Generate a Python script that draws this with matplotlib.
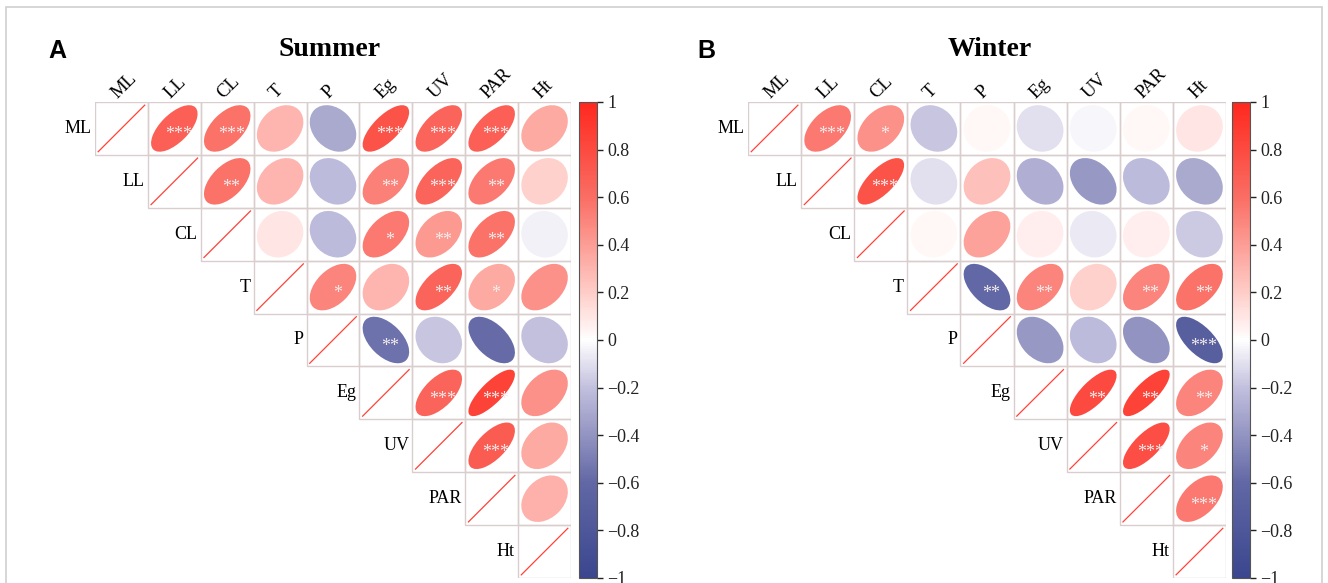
import matplotlib.pyplot as plt
import numpy as np
from matplotlib.patches import Ellipse, Rectangle
from matplotlib.colors import LinearSegmentedColormap, Normalize
from matplotlib.cm import ScalarMappable

labels = ["ML", "LL", "CL", "T", "P", "Eg", "UV", "PAR", "Ht"]

# upper triangle, row i holds r for columns i+1 ... 8
summer_r = [
    [0.68, 0.58, 0.30, -0.30, 0.75, 0.65, 0.68, 0.35],
    [0.58, 0.30, -0.22, 0.52, 0.65, 0.55, 0.18],
    [0.10, -0.22, 0.55, 0.42, 0.58, -0.04],
    [0.50, 0.30, 0.65, 0.35, 0.45],
    [-0.55, -0.18, -0.58, -0.20],
    [0.65, 0.85, 0.45],
    [0.70, 0.35],
    [0.32],
]
summer_sig = [
    ["***", "***", "", "", "***", "***", "***", ""],
    ["**", "", "", "**", "***", "**", ""],
    ["", "", "*", "**", "**", ""],
    ["*", "", "**", "*", ""],
    ["**", "", "", ""],
    ["***", "***", ""],
    ["***", ""],
    [""],
]
winter_r = [
    [0.55, 0.45, -0.18, 0.03, -0.10, -0.03, 0.03, 0.10],
    [0.75, -0.10, 0.25, -0.28, -0.38, -0.22, -0.30],
    [0.03, 0.38, 0.07, -0.07, 0.07, -0.17],
    [-0.60, 0.50, 0.18, 0.50, 0.58],
    [-0.38, -0.22, -0.40, -0.70],
    [0.80, 0.85, 0.50],
    [0.78, 0.50],
    [0.55],
]
winter_sig = [
    ["***", "*", "", "", "", "", "", ""],
    ["***", "", "", "", "", "", ""],
    ["", "", "", "", "", ""],
    ["**", "**", "", "**", "**"],
    ["", "", "", "***"],
    ["**", "**", "**"],
    ["***", "*"],
    ["***"],
]

stops = [(0.0, "#3A468E"), (0.2, "#6268A5"), (0.4, "#C3C0DE"), (0.5, "#FFFFFF"),
         (0.6, "#FFCDC8"), (0.8, "#FA6E64"), (1.0, "#FF281E")]
cmap = LinearSegmentedColormap.from_list("corr", stops)
norm = Normalize(-1, 1)

W, H = 1328, 583
fig = plt.figure(figsize=(W / 100, H / 100), dpi=100)
fig.patch.set_facecolor("white")

# light frame round the figure
fig.patches.append(Rectangle((6 / W, -0.1), 1316 / W, 1.1 - 7 / H, transform=fig.transFigure,
                             fill=False, edgecolor="#D0D0D0", lw=1.2))

serif = ["Liberation Serif", "DejaVu Serif"]
n = len(labels)
s = 0.44


def draw_panel(x0, x1, cb_x, r_rows, sig_rows, title, letter, tx, lx):
    ax = fig.add_axes([x0 / W, 5 / H, (x1 - x0) / W, 476 / H])
    ax.set_xlim(0, n)
    ax.set_ylim(0, n)
    ax.axis("off")
    for i in range(n):
        yc = n - i - 0.5
        for j in range(i, n):
            ax.add_patch(Rectangle((j, n - i - 1), 1, 1, fill=False, edgecolor="#D9CDCD", lw=1))
        # diagonal, r = 1
        ax.plot([i + 0.5 - 0.44, i + 0.5 + 0.44], [yc - 0.44, yc + 0.44], color="#FF4238", lw=0.9)
        ax.text(i - 0.06, yc, labels[i], ha="right", va="center", fontsize=13, family=serif)
        for k, r in enumerate(r_rows[i] if i < n - 1 else []):
            j = i + 1 + k
            a = s * np.sqrt(1 + 0.93 * abs(r))
            b = s * np.sqrt(1 - 0.93 * abs(r))
            ang = 45 if r >= 0 else -45
            ax.add_patch(Ellipse((j + 0.5, yc), 2 * a, 2 * b, angle=ang,
                                 facecolor=cmap(norm(r)), edgecolor="none"))
            if sig_rows[i][k]:
                ax.text(j + 0.58, yc - 0.12, sig_rows[i][k], ha="center", va="center",
                        fontsize=13, color="#F4ECEC", family=serif, clip_on=False)
    for j in range(n):
        ax.text(j + 0.42, n + 0.06, labels[j], rotation=45, rotation_mode="anchor",
                ha="left", va="baseline", fontsize=13.5, family=serif)

    cax = fig.add_axes([cb_x / W, 5 / H, 18 / W, 476 / H])
    cb = fig.colorbar(ScalarMappable(norm=norm, cmap=cmap), cax=cax)
    cb.set_ticks(np.round(np.arange(-1, 1.01, 0.2), 1))
    cb.set_ticklabels(["−1", "−0.8", "−0.6", "−0.4", "−0.2", "0", "0.2", "0.4", "0.6", "0.8", "1"])
    cb.outline.set_edgecolor("#555555")
    cax.tick_params(direction="out", length=4, width=1, labelsize=13, colors="#222222")
    for t in cax.get_yticklabels():
        t.set_family(serif)

    fig.text(tx / W, 1 - 50 / H, title, ha="center", va="center", fontsize=20,
             fontweight="bold", family=serif)
    fig.text(lx / W, 1 - 51 / H, letter, ha="left", va="center", fontsize=18,
             fontweight="bold", family=["Liberation Sans", "DejaVu Sans"])


draw_panel(95, 571, 579, summer_r, summer_sig, "Summer", "A", 330, 48)
draw_panel(748, 1226, 1232, winter_r, winter_sig, "Winter", "B", 990, 697)

fig.savefig("out.png", dpi=100)
